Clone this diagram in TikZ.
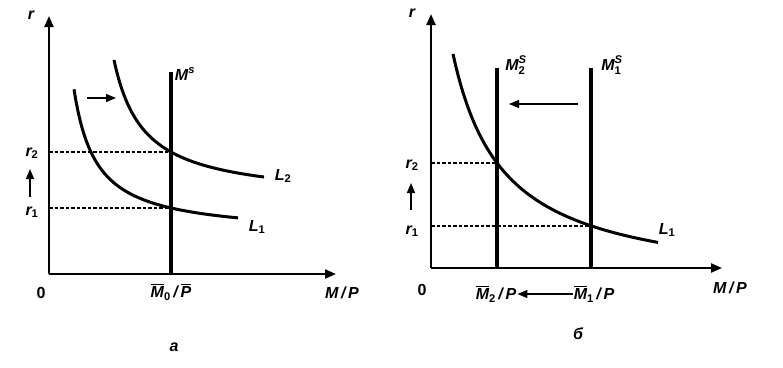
\documentclass[tikz,border=0pt]{standalone}
\usepackage{amsmath}
\usepackage{fontspec}
\setmainfont{Liberation Sans}
\usetikzlibrary{arrows.meta}
\newcommand{\barM}{\(\overline{\mbox{\textit{M}}}\)}
\newcommand{\barP}{\(\overline{\mbox{\textit{P}}}\)}

\begin{document}
\begin{tikzpicture}[
  x=1pt, y=-1pt,
  axis/.style={line width=2.2pt, -{Triangle[length=11pt,width=9pt]}},
  demand/.style={line width=3pt},
  supply/.style={line width=3.4pt},
  guide/.style={dashed, dash pattern=on 3.5pt off 2pt, line width=1.1pt},
  move/.style={line width=1.6pt, -{Triangle[length=10pt,width=8pt]}},
  lbl/.style={font=\fontsize{16}{18}\selectfont\bfseries\itshape, inner sep=1pt},
]
  \useasboundingbox (0,0) rectangle (783,367);

  % panel a
  \coordinate (O1) at (49,274);
  \coordinate (ytop1) at (49,16);
  \coordinate (xend1) at (336,274);
  \coordinate (stop1) at (171,72);
  \coordinate (sbot1) at (171,274);
  \coordinate (e1) at (171,208);
  \coordinate (e2) at (171,152);
  \coordinate (r1a) at (49,208);
  \coordinate (r2a) at (49,152);
  \draw[axis] (O1) -- (ytop1);
  \draw[axis] (O1) -- (xend1);
  \draw[guide] (r2a) -- (e2);
  \draw[guide] (r1a) -- (e1);
  \draw[supply] (sbot1) -- (stop1);
  \draw[demand] plot[domain=74:238, samples=80] (\x, {235.5 - 3290/(\x-51.5)});
  \draw[demand] plot[domain=114:264, samples=80] (\x, {200.4 - 4211/(\x-84)});
  \node[lbl] (ra) at (31,15) {r};
  \node[lbl] (r2lab) at (32,153) {r\textsubscript{\upshape 2}};
  \node[lbl] (r1lab) at (32,212) {r\textsubscript{\upshape 1}};
  \coordinate (upa1) at (30,197);
  \coordinate (upa2) at (30,169);
  \draw[move] (upa1) -- (upa2);
  \node[lbl] (Ms) at (185,74) {M\textsuperscript{s}};
  \node[lbl] (L2) at (283,176) {L\textsubscript{\upshape 2}};
  \node[lbl] (L1) at (257,227) {L\textsubscript{\upshape 1}};
  \coordinate (ra1) at (87,98);
  \coordinate (ra2) at (116,98);
  \draw[move] (ra1) -- (ra2);
  \node[lbl, font=\fontsize{16}{18}\selectfont\bfseries] (zero1) at (41,293) {0};
  \node[lbl] (M0P) at (171,292) {\barM\textsubscript{\upshape 0}\,/\,\barP};
  \node[lbl] (MPa) at (342,293) {M\,/\,P};
  \node[lbl] (capa) at (174,347) {a};

  % panel b
  \coordinate (O2) at (431,268);
  \coordinate (ytop2) at (431,14);
  \coordinate (xend2) at (722,268);
  \coordinate (s2top) at (497,68);
  \coordinate (s2bot) at (497,268);
  \coordinate (s1top) at (591,68);
  \coordinate (s1bot) at (591,268);
  \coordinate (f2) at (497,163);
  \coordinate (f1) at (591,226);
  \coordinate (r2b) at (431,163);
  \coordinate (r1b) at (431,226);
  \draw[axis] (O2) -- (ytop2);
  \draw[axis] (O2) -- (xend2);
  \draw[guide] (r2b) -- (f2);
  \draw[guide] (r1b) -- (f1);
  \draw[supply] (s2bot) -- (s2top);
  \draw[supply] (s1bot) -- (s1top);
  \draw[demand] plot[domain=453:658, samples=80] (\x, {289.3 - 12002/(\x-402)});
  \node[lbl] (rb) at (412,13) {r};
  \node[lbl] (r2labb) at (412,165) {r\textsubscript{\upshape 2}};
  \node[lbl] (r1labb) at (412,231) {r\textsubscript{\upshape 1}};
  \coordinate (upb1) at (411,210);
  \coordinate (upb2) at (411,183);
  \draw[move] (upb1) -- (upb2);
  \node[lbl] (M2S) at (516,65) {\(\textit{M}^{\textit{S}}_{\textup{2}}\)};
  \node[lbl] (M1S) at (612,65) {\(\textit{M}^{\textit{S}}_{\textup{1}}\)};
  \node[lbl] (L1b) at (667,230) {L\textsubscript{\upshape 1}};
  \coordinate (la1) at (578,104);
  \coordinate (la2) at (509,104);
  \draw[move] (la1) -- (la2);
  \node[lbl, font=\fontsize{16}{18}\selectfont\bfseries] (zero2) at (422,290) {0};
  \node[lbl] (M2P) at (496,294) {\barM\textsubscript{\upshape 2}\,/\,P};
  \node[lbl] (M1P) at (594,294) {\barM\textsubscript{\upshape 1}\,/\,P};
  \draw[move] (M1P.west) -- (M2P.east);
  \node[lbl] (MPb) at (730,288) {M\,/\,P};
  \node[lbl] (capb) at (578,334) {б};
\end{tikzpicture}
\end{document}
